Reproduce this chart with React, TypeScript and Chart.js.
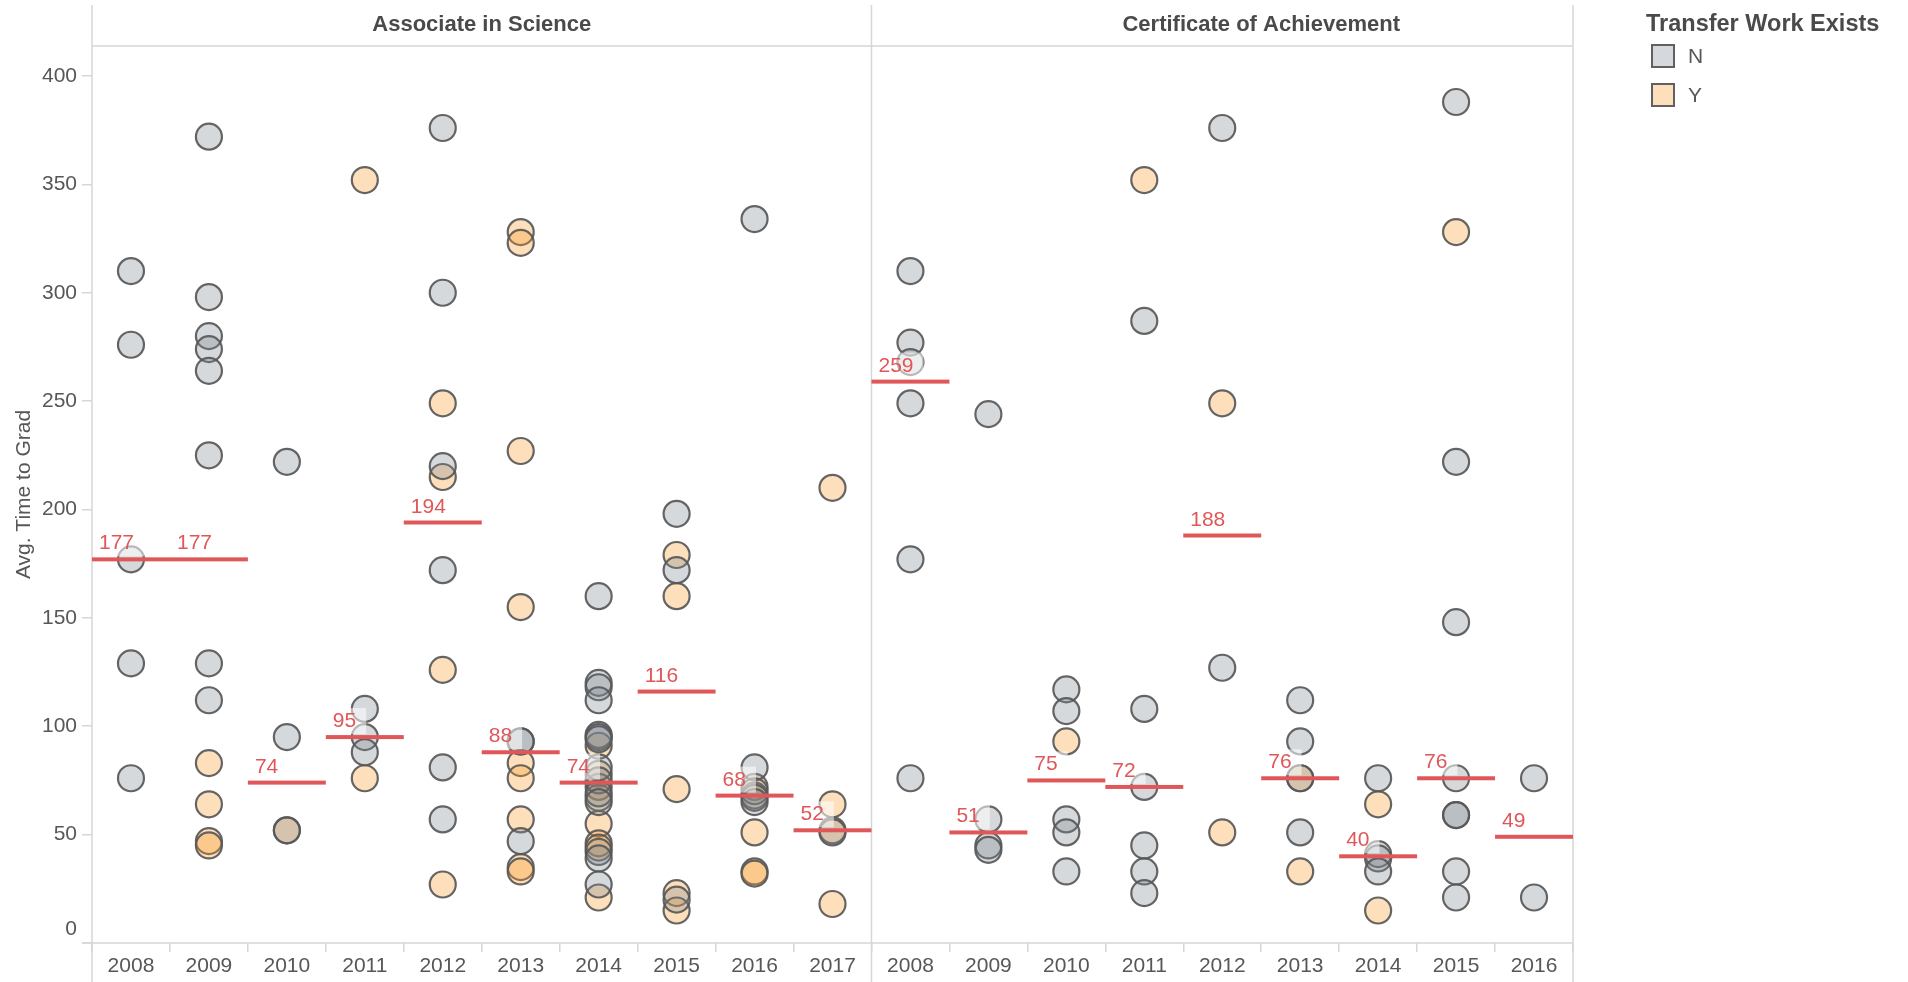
import React, { useEffect, useRef } from 'react';
import { Chart, registerables } from 'chart.js';

Chart.register(...registerables);

// ---------- data ----------
const panelTitles = ['Associate in Science', 'Certificate of Achievement'];
const yearsAS = ['2008', '2009', '2010', '2011', '2012', '2013', '2014', '2015', '2016', '2017'];
const yearsCA = ['2008', '2009', '2010', '2011', '2012', '2013', '2014', '2015', '2016'];
const yTickValues = [0, 50, 100, 150, 200, 250, 300, 350, 400];
const yAxisTitle = 'Avg. Time to Grad';
const legendTitle = 'Transfer Work Exists';
const legendLabels = ['N', 'Y'];

// Associate in Science — Transfer Work Exists = N
const asN: number[][] = [
  [310, 276, 177, 129, 76],
  [372, 298, 280, 274, 264, 225, 129, 112],
  [222, 95, 52],
  [108, 95, 88],
  [376, 300, 220, 172, 81, 57],
  [93, 93, 47],
  [160, 120, 118, 112, 96, 95, 94, 81, 75, 69, 65, 42, 39, 27],
  [198, 172, 20],
  [334, 81, 70, 67, 65],
  [51],
];
// Associate in Science — Transfer Work Exists = Y
const asY: number[][] = [
  [],
  [83, 64, 47, 45],
  [52],
  [352, 76],
  [249, 215, 126, 27],
  [328, 323, 227, 155, 83, 76, 57, 35, 33],
  [91, 78, 72, 67, 55, 46, 44, 21],
  [179, 160, 71, 23, 15],
  [72, 68, 51, 33, 32],
  [210, 64, 52, 18],
];
// Certificate of Achievement — N
const caN: number[][] = [
  [310, 277, 268, 249, 177, 76],
  [244, 57, 45, 43],
  [117, 107, 57, 51, 33],
  [287, 108, 72, 45, 33, 23],
  [376, 127],
  [112, 93, 76, 51],
  [76, 41, 39, 33],
  [388, 222, 148, 76, 59, 59, 33, 21],
  [76, 21],
];
// Certificate of Achievement — Y
const caY: number[][] = [
  [],
  [],
  [93],
  [352],
  [249, 51],
  [76, 33],
  [64, 15],
  [328],
  [],
];
// Median reference lines (labels)
const asMedian = [177, 177, 74, 95, 194, 88, 74, 116, 68, 52];
const caMedian = [259, 51, 75, 72, 188, 76, 40, 76, 49];

// ---------- styles ----------
const FONT = '"Liberation Sans", Arial, Helvetica, sans-serif';
const TEXT = '#575757';
const HEAD = '#4a4a4a';
const LINE = '#d6d6d6';
const RED = '#e05759';
const N_FILL = 'rgba(123,132,143,0.31)';
const Y_FILL = 'rgba(249,153,37,0.31)';
const N_SWATCH = '#d5d9dd';
const Y_SWATCH = '#fddfbb';
const BORDER = 'rgba(88,88,88,0.92)';
const Y_MAX = 413.84;

const allLabels = [...yearsAS, ...yearsCA];
const allMedians = [...asMedian, ...caMedian];

function toPoints(as: number[][], ca: number[][]) {
  const pts: { x: number; y: number }[] = [];
  as.forEach((vals, i) => vals.forEach((v) => pts.push({ x: i, y: v })));
  ca.forEach((vals, i) => vals.forEach((v) => pts.push({ x: yearsAS.length + i, y: v })));
  return pts;
}

const decorPlugin = {
  id: 'decor',
  beforeDatasetsDraw(chart: any) {
    const { ctx, chartArea: ca, scales } = chart;
    const x = scales.x;
    const divX = x.getPixelForValue(yearsAS.length - 0.5);
    ctx.save();
    ctx.strokeStyle = LINE;
    ctx.lineWidth = 1.5;
    const line = (x1: number, y1: number, x2: number, y2: number) => {
      ctx.beginPath();
      ctx.moveTo(x1, y1);
      ctx.lineTo(x2, y2);
      ctx.stroke();
    };
    [ca.left, divX, ca.right].forEach((px) => line(px, 5, px, chart.height));
    line(ca.left, ca.top, ca.right, ca.top);
    line(ca.left - 10, ca.bottom, ca.right, ca.bottom);
    ctx.restore();
  },
  afterDatasetsDraw(chart: any) {
    const { ctx, scales } = chart;
    const x = scales.x;
    const y = scales.y;
    ctx.save();
    ctx.font = `21px ${FONT}`;
    allMedians.forEach((m, i) => {
      const x0 = x.getPixelForValue(i - 0.5);
      const x1 = x.getPixelForValue(i + 0.5);
      const ly = y.getPixelForValue(m);
      const txt = String(m);
      const tw = ctx.measureText(txt).width;
      ctx.fillStyle = 'rgba(255,255,255,0.55)';
      ctx.fillRect(x0 + 5, ly - 29, tw + 12, 26);
      ctx.fillStyle = RED;
      ctx.fillRect(x0, ly - 2, x1 - x0, 4);
      ctx.textAlign = 'left';
      ctx.textBaseline = 'alphabetic';
      ctx.fillText(txt, x0 + 7, ly - 10);
    });
    ctx.restore();
  },
  afterDraw(chart: any) {
    const { ctx, chartArea: ca, scales } = chart;
    const x = scales.x;
    const y = scales.y;
    const divX = x.getPixelForValue(yearsAS.length - 0.5);
    const panelW = divX - ca.left;
    ctx.save();
    // panel headers
    ctx.font = `bold 22px ${FONT}`;
    ctx.fillStyle = HEAD;
    ctx.textAlign = 'center';
    ctx.textBaseline = 'middle';
    ctx.fillText(panelTitles[0], ca.left + panelW / 2, 25);
    ctx.fillText(panelTitles[1], divX + panelW / 2, 25);
    // zero label (Tableau shifts it up inside the pane)
    ctx.font = `21px ${FONT}`;
    ctx.fillStyle = TEXT;
    ctx.textAlign = 'right';
    ctx.fillText(String(yTickValues[0]), 77, y.getPixelForValue(0) - 14);
    // legend
    const lx = ca.right + 73;
    ctx.font = `bold 23.5px ${FONT}`;
    ctx.fillStyle = HEAD;
    ctx.textAlign = 'left';
    ctx.fillText(legendTitle, lx, 25);
    const swatches = [N_SWATCH, Y_SWATCH];
    legendLabels.forEach((lab, i) => {
      const sy = 45 + i * 39;
      ctx.fillStyle = swatches[i];
      ctx.fillRect(lx + 6, sy, 22, 22);
      ctx.strokeStyle = '#606060';
      ctx.lineWidth = 2;
      ctx.strokeRect(lx + 6, sy, 22, 22);
      ctx.font = `21px ${FONT}`;
      ctx.fillStyle = TEXT;
      ctx.fillText(lab, lx + 42, sy + 12);
    });
    ctx.restore();
  },
};

export default function App() {
  const canvasRef = useRef<HTMLCanvasElement | null>(null);

  useEffect(() => {
    const canvas = canvasRef.current;
    if (!canvas) return;
    const pointStyle = {
      pointRadius: 13,
      pointHoverRadius: 13,
      pointBorderWidth: 2.2,
      pointBorderColor: BORDER,
      showLine: false,
    };
    const chart = new Chart(canvas, {
      type: 'scatter',
      data: {
        datasets: [
          { label: legendLabels[0], data: toPoints(asN, caN), pointBackgroundColor: N_FILL, ...pointStyle },
          { label: legendLabels[1], data: toPoints(asY, caY), pointBackgroundColor: Y_FILL, ...pointStyle },
        ],
      },
      options: {
        animation: false,
        responsive: false,
        maintainAspectRatio: false,
        layout: { padding: { top: 46, right: 335, left: 0, bottom: 0 } },
        plugins: { legend: { display: false }, tooltip: { enabled: false } },
        scales: {
          x: {
            type: 'linear',
            min: -0.5,
            max: allLabels.length - 0.5,
            afterBuildTicks: (scale: any) => {
              scale.ticks = allLabels.map((_, i) => ({ value: i }));
            },
            afterFit: (scale: any) => {
              scale.height = 39;
            },
            ticks: {
              autoSkip: false,
              maxRotation: 0,
              minRotation: 0,
              padding: 2,
              color: TEXT,
              font: { size: 21, family: FONT },
              callback: (v: any) => allLabels[Math.round(Number(v))] ?? '',
            },
            grid: {
              offset: true,
              drawOnChartArea: false,
              drawTicks: true,
              tickLength: 9,
              tickColor: LINE,
              lineWidth: 1.5,
            },
            border: { display: false },
          },
          y: {
            type: 'linear',
            min: 0,
            max: Y_MAX,
            afterBuildTicks: (scale: any) => {
              scale.ticks = yTickValues.map((v) => ({ value: v }));
            },
            afterFit: (scale: any) => {
              scale.width = 92;
            },
            ticks: {
              padding: 5,
              color: TEXT,
              font: { size: 21, family: FONT },
              callback: (v: any) => (Number(v) === 0 ? '' : String(v)),
            },
            grid: {
              drawOnChartArea: false,
              drawTicks: true,
              tickLength: 10,
              tickColor: LINE,
              lineWidth: 1.5,
            },
            border: { display: false },
            title: {
              display: true,
              text: yAxisTitle,
              color: TEXT,
              font: { size: 21, family: FONT },
              padding: { top: 12, bottom: 0 },
            },
          },
        },
      },
      plugins: [decorPlugin],
    } as any);
    return () => chart.destroy();
  }, []);

  return (
    <div style={{ position: 'fixed', left: 0, top: 0, width: 1908, height: 982, background: '#fff' }}>
      <canvas ref={canvasRef} width={1908} height={982} style={{ display: 'block', width: 1908, height: 982 }} />
    </div>
  );
}
